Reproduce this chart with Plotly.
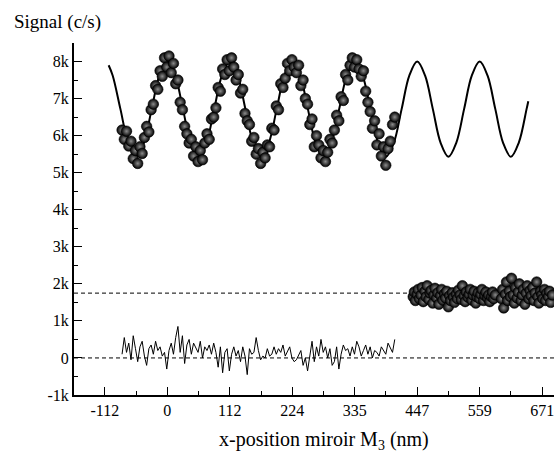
import plotly.graph_objects as go

# ---- data ----
# measured signal (c/s) vs mirror position (nm)
meas_x = [-81,-77,-73,-69,-65,-61,-57,-53,-49,-45,-41,-37,-33,-29,-25,-21,-17,-13,-9,-5,-1,3,7,11,15,19,23,27,
          31,35,39,43,47,51,55,59,63,67,71,75,79,83,87,91,95,99,103,107,111,115,119,123,127,131,135,139,
          143,147,151,155,159,163,167,171,175,179,183,187,191,195,199,203,207,211,215,219,223,227,231,235,239,243,247,251,
          255,259,263,267,271,275,279,283,287,291,295,299,303,307,311,315,319,323,327,331,335,339,343,347,351,355,359,363,
          367,371,375,379,383,387,391,395,399,403,407]
meas_y = [6150,5900,6120,5720,5850,5380,5600,5250,5700,5520,5950,6250,6100,6700,6850,7350,7250,7750,7600,8100,7850,8150,7700,7950,7400,7500,6900,6700,
          6250,6050,5800,5900,5450,5700,5300,5600,5350,5800,6050,5900,6450,6500,6750,7300,7200,7800,7650,8050,7750,8100,7850,7500,7650,7150,7250,6600,
          6400,6300,5850,5950,5500,5650,5250,5550,5400,5750,5700,6200,6150,6800,6700,7400,7300,7550,7950,7750,8050,7850,7700,7900,7350,7500,7000,6850,
          6300,6450,5700,6000,5750,5400,5600,5300,5550,5900,5800,6150,6550,6400,7050,6950,7650,7500,7900,8100,7850,8050,7800,7600,7750,7200,6900,6650,
          6200,6400,5750,6050,5450,5700,5200,5650,5850,6300,6500]

# residual (c/s) at the same positions
resid_y = [100,550,150,400,-50,600,250,-100,300,450,50,-200,250,350,100,450,200,300,50,150,-300,200,400,100,550,850,150,600,
           -150,350,500,100,400,250,150,450,0,300,200,350,100,400,150,-250,300,-400,150,250,-350,100,300,50,200,-100,300,50,
           -450,250,100,150,550,200,-50,50,0,250,50,100,300,100,250,150,350,50,200,300,0,-100,-50,100,200,-200,0,-350,
           100,450,-100,300,50,500,150,300,0,250,-200,-100,300,-300,100,350,200,250,50,300,100,450,300,50,200,350,100,300,
           0,200,150,50,300,200,100,400,250,150,500]

# fitted fringe curve, read at extrema / crossings / eighth points
fit_x = [-105,-97.8,-83.9,-69.9,-55.9,-41.9,-28.0,-14.0,0,
         14.0,28.0,41.9,55.9,69.9,83.9,97.8,111.8,
         125.8,139.8,153.7,167.7,181.7,195.7,209.6,223.6,
         237.6,251.6,265.5,279.5,293.5,307.5,321.4,335.4,
         349.4,363.4,377.3,391.3,405.3,419.3,433.2,447.2,
         461.2,475.2,489.1,503.1,517.1,531.1,545.0,559.0,
         573.0,587.0,600.9,614.9,628.9,642.9,646]
fit_y = [7900,7624,6715,5806,5430,5806,6715,7624,8000,
         7624,6715,5806,5430,5806,6715,7624,8000,
         7624,6715,5806,5430,5806,6715,7624,8000,
         7624,6715,5806,5430,5806,6715,7624,8000,
         7624,6715,5806,5430,5806,6715,7624,8000,
         7624,6715,5806,5430,5806,6715,7624,8000,
         7624,6715,5806,5430,5806,6715,6930]

# second measurement (background-level cluster)
bg_x = [440,442,444,447,449,451,454,456,458,461,463,465,468,470,472,475,
        477,479,482,484,486,489,491,493,496,498,500,503,505,507,510,512,
        514,517,519,521,524,526,528,531,533,535,538,540,542,545,547,549,
        552,554,556,559,561,563,566,568,570,573,575,577,580,582,584,587,
        598,600,602,605,607,609,612,614,616,619,621,623,626,628,630,633,
        635,637,640,642,644,647,649,651,654,656,658,661,663,665,668,670,
        672,675,677,679,682,684,686,689]
bg_y = [1650,1780,1550,1720,1850,1600,1700,1900,1520,1800,1650,1950,1580,1750,1820,1480,
        1700,1880,1620,1760,1450,1690,1850,1560,1730,1620,1800,1380,1680,1550,1760,1640,
        1500,1720,1600,1830,1700,1580,1950,1680,1520,1780,1640,1720,1850,1560,1700,1800,
        1480,1650,1760,1600,1720,1850,1550,1690,1780,1620,1700,1520,1650,1780,1600,1700,
        1600,1850,1350,1720,2050,1550,1800,1650,2150,1700,1480,1900,1620,1780,2000,1550,
        1700,1850,1450,1750,1950,1600,1820,1680,1900,1550,1750,2050,1650,1480,1800,1700,
        1600,1850,1550,1750,1650,1800,1500,1700]

ref_levels = [0, 1750]

x_tickvals = [-111.8, 0, 111.8, 223.6, 335.4, 447.2, 559.0, 670.8]
x_ticktext = ["-112", "0", "112", "224", "335", "447", "559", "671"]
y_tickvals = [-1000, 0, 1000, 2000, 3000, 4000, 5000, 6000, 7000, 8000]
y_ticktext = ["-1k", "0", "1k", "2k", "3k", "4k", "5k", "6k", "7k", "8k"]

FONT = "Liberation Serif, Times New Roman, serif"

sphere = dict(size=10.5, color="#000000",
              gradient=dict(type="radial", color="#8c8c8c"),
              line=dict(width=0.6, color="#000000"))

fig = go.Figure()
fig.add_trace(go.Scatter(x=fit_x, y=fit_y, mode="lines", line=dict(color="black", width=2, shape="spline"),
                         hoverinfo="skip"))
fig.add_trace(go.Scatter(x=meas_x, y=resid_y, mode="lines", line=dict(color="black", width=1)))
fig.add_trace(go.Scatter(x=meas_x, y=meas_y, mode="markers", marker=sphere, cliponaxis=False))
fig.add_trace(go.Scatter(x=bg_x, y=bg_y, mode="markers", marker=sphere, cliponaxis=False))

for lvl in ref_levels:
    fig.add_shape(type="line", xref="paper", x0=0, x1=1, yref="y", y0=lvl, y1=lvl,
                  line=dict(color="black", width=1, dash="4px,3px"), layer="below")

fig.update_layout(
    width=554, height=455,
    margin=dict(l=74, r=0, t=43, b=60),
    paper_bgcolor="white", plot_bgcolor="white",
    showlegend=False,
    font=dict(family=FONT, size=15, color="black"),
    xaxis=dict(range=[-167, 692], showgrid=False, zeroline=False, automargin=False,
               showline=True, linecolor="black", linewidth=2,
               ticks="inside", ticklen=8, tickwidth=1.2, tickcolor="black",
               tickvals=x_tickvals, ticktext=x_ticktext, ticklabeloverflow="allow",
               tickfont=dict(family=FONT, size=16, color="black"),
               minor=dict(ticks="inside", ticklen=4, tickwidth=1, tickcolor="black",
                          tick0=0, dtick=55.9)),
    yaxis=dict(range=[-1000, 8500], showgrid=False, zeroline=False, automargin=False,
               showline=True, linecolor="black", linewidth=2,
               ticks="inside", ticklen=8, tickwidth=1.2, tickcolor="black",
               tickvals=y_tickvals, ticktext=y_ticktext,
               tickfont=dict(family=FONT, size=16, color="black"),
               minor=dict(ticks="inside", ticklen=4, tickwidth=1, tickcolor="black",
                          tick0=0, dtick=500)),
    annotations=[
        dict(text="Signal (c/s)", xref="paper", yref="paper", x=-0.13, y=1.06,
             xanchor="left", yanchor="middle", showarrow=False,
             font=dict(family=FONT, size=19, color="black")),
        dict(text="x-position miroir M<sub>3</sub> (nm)", xref="paper", yref="paper",
             x=0.52, y=-0.13, xanchor="center", yanchor="middle", showarrow=False,
             font=dict(family=FONT, size=20, color="black")),
    ],
)

fig.write_html("out.html", config={"displayModeBar": False},
               post_script="document.body.style.margin='0';document.body.style.overflow='hidden';")
